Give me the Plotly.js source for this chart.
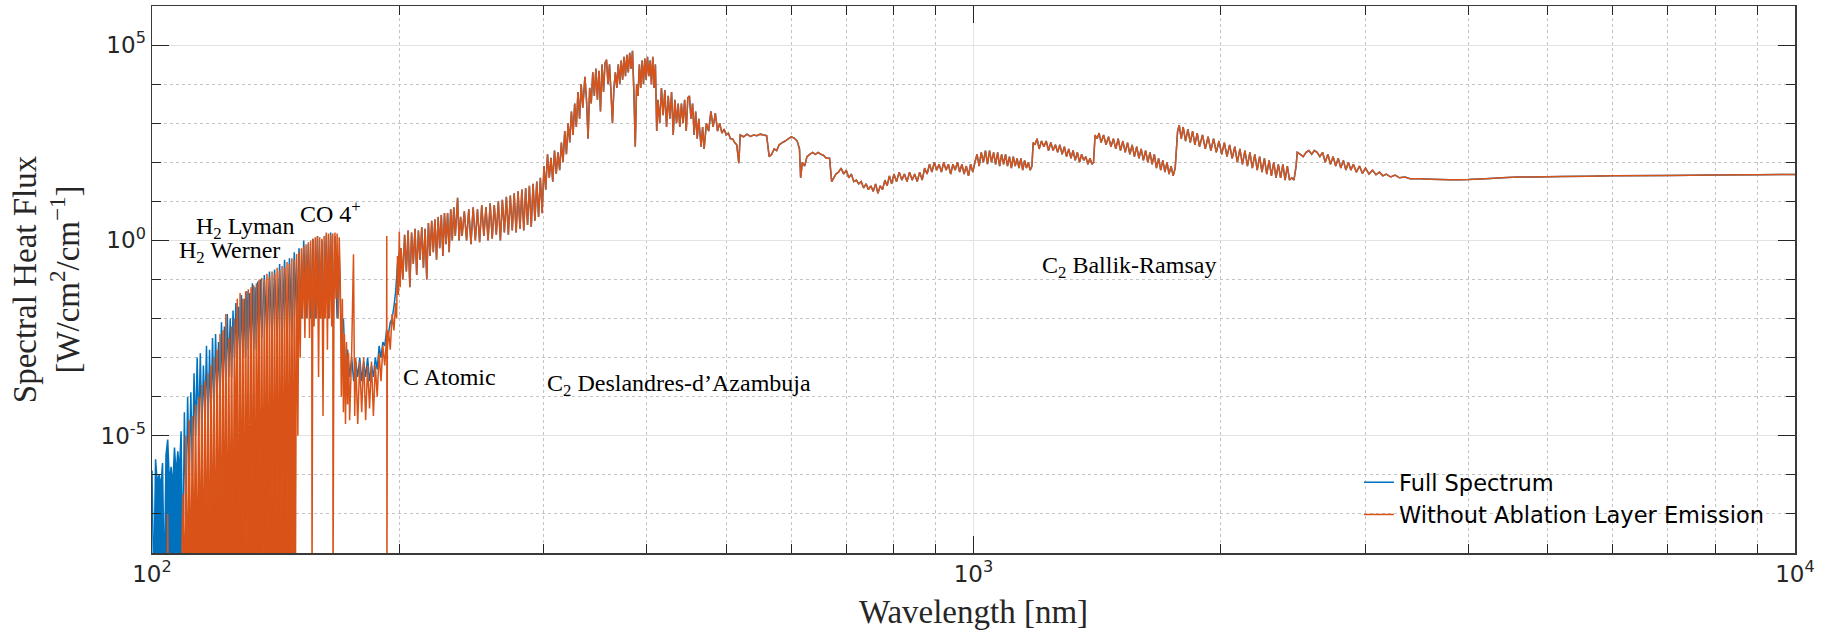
<!DOCTYPE html>
<html><head><meta charset="utf-8">
<script src="https://cdn.plot.ly/plotly-3.0.1.min.js"></script>
<style>html,body{margin:0;padding:0;background:#fff;} #chart{width:1836px;height:638px;}</style>
</head><body><div id="chart"></div>
<script>
// ---- Full Spectrum (blue), 100-200 nm where it differs from the other spectrum ----
const fullLowWavelength = [
100,100.5,101,101.5,102,102.5,103,103.5,104,104.5,105,105.5,106,106.5,107,107.5,108,108.5,109,109.5,
110,110.5,111,111.5,112,112.5,113,113.5,114,114.5,115,115.5,116,116.5,117,117.5,118,118.5,119,119.5,
120,120.5,121,121.5,122,122.5,123,123.5,124,124.5,125,125.5,126,126.5,127,127.5,128,128.5,129,129.5,
130,130.5,131,131.5,132,132.5,133,133.5,134,134.5,135,135.5,
136,137,138,139,140,141,142,143,144,145,146,147,148,149,
150,151,152,153,154,155,156,157,158,159,160,161,162,163,164,165,166,167,168,169,
170,171,172,173,174,175,176,177,178,179,180,181,182,183,184,185,186,187,188,189,
190,191,192,193,194,195,196,197,198,199,200
];
const fullLowFlux = [
1.3e-6,1e-9,2.5e-6,6.3e-7,1e-6,5e-7,2e-6,1e-9,3.2e-6,8e-6,6.3e-7,1.6e-6,5e-7,5e-6,1e-6,4e-6,1.3e-6,1.3e-5,3.2e-9,4e-5,
1e-7,1e-4,1e-6,1.3e-4,1e-6,4e-4,1e-5,1e-3,1e-5,1.3e-3,1e-5,6.3e-4,3.2e-5,2e-3,1e-5,1.6e-3,3.2e-5,3.2e-3,3.2e-5,4e-3,
1e-4,2.5e-3,1e-4,8e-3,1e-4,6.3e-3,3.2e-4,1.3e-2,3.2e-4,1e-2,3.2e-4,1.6e-2,1e-3,2.5e-2,1e-3,2e-2,1e-3,4e-2,1e-3,3.2e-2,
1e-3,5e-2,1.6e-3,4.5e-2,1.6e-3,8e-2,1.6e-3,6.3e-2,1.6e-3,8.9e-2,3.2e-3,0.1,
3.2e-3,0.13,3.2e-3,0.16,3.2e-3,0.18,3.2e-3,0.25,3.2e-3,0.32,3.2e-3,0.35,3.2e-3,0.5,
0.01,0.63,0.01,1,0.01,0.8,0.01,1.1,0.01,1.3,0.01,1,0.01,1.4,0.01,1.6,0.01,1.3,0.01,0.4,
3.2e-3,1e-2,4e-4,1.6e-3,3.2e-4,1e-3,2.5e-4,8e-4,3.2e-4,1e-3,2.5e-4,8e-4,3.2e-4,1e-3,2.5e-4,6.3e-4,3.2e-4,1e-3,5e-4,2e-3,
1e-3,2.5e-3,2e-3,5e-3,4e-3,8e-3,1e-2,2e-2,5e-2,0.25,0.5
];

// ---- Without Ablation Layer Emission (orange), 100-200 nm ----
const ablLowWavelength = [
100,104.3,104.5,104.7,108.5,109,109.5,
110,110.5,111,111.5,112,112.5,113,113.5,114,114.5,115,115.5,116,116.5,117,117.5,118,118.5,119,119.5,
120,120.5,121,121.5,122,122.5,123,123.5,124,124.5,125,125.5,126,126.5,127,127.5,128,128.5,129,129.5,
130,130.5,131,131.5,132,132.5,133,133.5,134,134.5,135,135.5,
136,136.5,137,137.5,138,138.5,139,139.5,140,140.5,141,141.5,142,142.5,143,143.5,144,144.5,145,145.5,146,146.5,147,147.5,148,148.5,149,149.5,
150,150.5,151,151.5,152,152.5,153,153.5,154,154.5,155,155.5,156,156.5,156.6,157,157.5,158,158.5,159,159.5,160,160.5,161,161.5,162,162.5,163,163.5,164,164.5,165,165.5,166,166.1,166.5,167,167.5,168,168.5,169,169.5,
170,170.5,171,171.5,172,172.5,173,173.5,174,175,175.9,176.5,177,178,179,180,181,182,183,184,185,186,187,188,189,
190,191,192,193,193.1,193.2,193.4,194,195,196,197,198,198.5,199,199.5,200,200.5
];
const ablLowFlux = [
3.2e-10,3.2e-10,1e-7,3.2e-10,3.2e-10,3.2e-7,1e-9,
1e-5,1e-9,2.5e-5,1e-9,3.2e-5,3.2e-9,6.3e-5,1e-9,1e-4,3.2e-9,2e-4,1e-9,2.5e-4,3.2e-9,4e-4,1e-9,6.3e-4,3.2e-9,1e-3,1e-9,
1.6e-3,3.2e-9,4e-3,1e-9,5e-3,3.2e-9,1.3e-2,1e-9,3.2e-3,3.2e-9,6.3e-3,1e-9,1e-2,1e-6,3.2e-2,1e-9,4.5e-2,3.2e-9,3.2e-2,1e-9,
5e-2,1e-8,5.6e-2,1e-9,6.3e-2,3.2e-9,7.1e-2,1e-9,8e-2,1e-7,0.1,1e-9,
0.11,1e-9,0.1,3.2e-9,0.14,1e-9,0.12,3.2e-9,0.16,1e-9,0.14,3.2e-9,0.2,1e-9,0.17,3.2e-9,0.22,1e-9,0.2,3.2e-9,0.28,1e-9,0.25,3.2e-9,0.35,1e-9,0.32,3.2e-9,
0.45,1e-5,0.5,1e-3,0.63,1e-2,0.7,3.2e-3,0.8,1e-2,0.9,3.2e-3,1,1e-2,1e-9,1.1,6.3e-3,1.2,1e-2,1.3,3.2e-4,1.2,1e-2,1.1,3.2e-5,1.3,1e-2,1.6,1.6e-3,1.5,1e-2,1.4,6.3e-3,1.5,1e-9,1e-2,1.6,3.2e-2,1.5,1e-2,1.2,0.1,
1e-4,3.2e-2,4e-5,4e-3,2e-5,2.5e-3,6.3e-5,1.3e-3,2.5e-5,1.3e-3,0.44,3.2e-5,1e-3,2e-5,8e-4,4e-5,1e-3,2.5e-5,6.3e-4,5e-5,8e-4,3.2e-5,6.3e-4,1e-4,1.3e-3,
2.5e-4,2e-3,6.3e-4,3.2e-3,1.3,1e-9,1.6e-3,5e-3,1.6e-3,1.3e-2,5e-3,2.5e-2,1e-2,0.4,4e-2,1.7,6.3e-2
];

// ---- Above ~200 nm both spectra coincide (the orange one is drawn on top) ----
const sharedWavelength = [
201,202,203,204,205,206,207,208,209,210,211,212,213,214,215,216,217,218,219,220,221,222,223,224,225,226,227,228,229,230,231,232,233,234,
235.5,236.5,237.5,238.5,240,241.5,243,244.5,246,247.5,249,250.5,252,253.5,255,256.5,258,259.5,261,262.5,264,265.5,267,268.5,270,271.5,273,274.5,276,277.5,279,280.5,282,283.5,285,286.5,288,289.5,291,292.5,294,295.5,297,298.5,
300,301.5,303,304.5,306,307.5,309,310.5,312,313.5,315,316.5,318,319.5,321,322.5,324,325.5,327,328.5,330,331.5,333,334.5,
336.5,338,339.5,341,342.5,344,345.5,347,348.5,350,351.5,353,354.5,356,357.5,359,360.5,362,363.5,365,366.5,368,369.5,371,372.5,374,375.5,377,378.5,380,381.5,383,384.5,386,387.5,389,390.5,392,393.5,395,396.5,398,399.5,
401,402.5,404,405.5,407,408.5,410,411.5,413,415,417,419,421,423,425,427,429,431,433,435,437,439,441,443,445,447,449,451,453,455,457,459,461,463,466,468,470,473,476,479,482,485,488,491,494,497,
500,503,506,509,512,515,518,520,525,530,535,540,545,550,555,560,564,568,572,576,580,585,590,595,
600,605,610,614,616,619,623,627,632,637,642,647,652,657,662,668,672,676,680,685,690,695,
700,705,710,715,720,725,730,735,740,745,750,755,760,765,770,775,780,785,790,795,
800,806,812,818,824,830,836,842,848,854,860,866,872,878,884,890,896,902,908,914,920,926,932,938,944,950,956,962,968,974,980,986,992,998,
1004,1010,1016,1022,1028,1034,1040,1046,1052,1058,1064,1070,1076,1082,1088,1094,1100,1106,1112,1118,1124,1130,1136,1142,1148,1154,1160,1166,1172,1178,
1182,1188,1195,1202,1210,1218,1226,1234,1242,1250,1258,1266,1274,1282,1290,1298,1306,1314,1322,1330,1338,1346,1354,1362,1370,1378,1386,1394,1400,
1406,1414,1422,1430,1440,1450,1460,1470,1480,1490,1500,1510,1520,1530,1540,1550,1560,1570,1580,1590,1600,1610,1620,1630,1640,1650,1660,1670,1680,1690,1700,1710,1720,1730,1740,1750,1760,
1772,1780,1790,1800,1812,1824,1836,1848,1860,1872,1884,
1900,1915,1930,1945,1960,1975,1990,2005,2020,2035,2050,2065,2080,2095,2110,2125,2140,2155,2170,2185,2200,2215,2230,2245,2260,2275,2290,2305,2320,2335,2350,2365,2380,2395,2410,2425,2440,2455,2470,
2478,2500,2520,2540,2560,2580,2600,2620,2640,2660,2680,2700,2720,2740,2760,2780,2800,2820,2840,2860,2880,2900,2925,2950,2975,3000,
3030,3060,3090,3120,3150,3180,3220,3260,3300,3350,3400,3500,3600,3700,3800,3900,4000,4200,4400,4600,4800,5200,5600,6000,7000,8000,9000,10000
];
const sharedFlux = [
0.63,0.1,1.4,0.16,1.8,6.3e-2,1.6,0.25,2,0.13,1.8,0.32,2.2,0.2,2,0.1,2.8,0.4,3.2,0.5,3.5,0.32,4,0.63,4.5,0.4,5,0.8,5,0.5,6.3,1,7.1,1.3,
12.3,1,4,1.3,5.6,1,6.3,0.8,7.1,1,6.3,0.9,8,1.3,7.1,1,8.9,1.1,8,1.4,10,1,11,1.6,13,1.4,14,1.8,16,1.6,18,2,20,1.8,22,2.5,25,2.2,28,3.2,32,4,40,5,
80,20,160,40,130,32,200,50,180,63,320,100,630,160,1000,320,2000,500,3200,800,6300,1300,1e4,2500,
1.55e4,4000,400,8000,3200,2e4,5000,2.5e4,4000,2.2e4,2000,3.2e4,6300,3.5e4,4.2e4,1e4,3.2e4,6300,1000,8000,2e4,8000,3.2e4,1e4,4e4,1.3e4,5e4,1.6e4,5.6e4,2e4,6.3e4,2.5e4,7.1e4,6300,250,1e4,5000,3.2e4,8000,4e4,1e4,4.5e4,1.3e4,
5e4,1.6e4,4e4,1e4,5e4,8000,3.2e4,630,4000,1000,8000,1600,7100,800,5000,1300,6300,500,4000,1000,3200,800,3200,1000,4000,630,4500,5000,1300,3200,500,2000,400,1300,250,800,220,1000,630,2000,800,1800,630,1000,560,710,
500,560,400,400,320,280,95,500,450,525,457,500,479,525,500,479,140,160,220,200,280,320,350,400,
450,417,350,220,40,100,80,140,160,180,160,180,160,150,126,126,32,40,50,56,71,50,
63,40,50,32,35,28,32,22,28,20,25,18,28,16,25,20,35,25,45,28,
50,32,56,35,50,32,56,35,50,32,56,35,71,50,89,56,100,63,89,56,100,63,89,50,89,63,100,56,89,50,80,45,89,56,
100,160,80,180,100,200,89,200,100,180,89,180,80,160,89,160,80,140,71,140,80,126,71,126,63,112,71,100,63,80,
320,280,400,220,350,250,350,200,320,200,280,180,280,160,250,140,220,126,200,112,180,100,160,112,140,89,126,89,100,
500,400,560,320,500,280,450,250,400,220,400,200,350,180,320,160,280,140,250,126,220,112,200,100,180,89,160,71,126,63,112,56,100,50,80,45,71,
630,890,400,800,350,710,320,630,280,560,250,
500,220,450,200,400,180,350,160,320,140,280,126,250,100,220,89,200,80,180,71,160,63,140,56,126,50,112,45,100,40,89,40,89,35,80,35,40,35,80,
180,160,140,180,200,160,200,180,140,180,100,160,89,140,80,126,71,112,63,100,63,89,56,80,52,71,
50,63,48,56,45,50,42,47,40,42,38,38,37,36,35.5,35.5,36,38,40,42,42,43,44,45,46,47,48,49
];

// ---- Axis ticks ----
const xMajorTicks = [100, 1000, 10000];
const xMajorLabels = ['10<sup>2</sup>', '10<sup>3</sup>', '10<sup>4</sup>'];
const xMinorTicks = [200,300,400,500,600,700,800,900,2000,3000,4000,5000,6000,7000,8000,9000];
const yMajorTicks = [1e-5, 1, 1e5];
const yMajorLabels = ['10<sup>-5</sup>', '10<sup>0</sup>', '10<sup>5</sup>'];
const yMinorTicks = [1e-8,1e-7,1e-6,1e-4,1e-3,1e-2,1e-1,10,100,1000,1e4,1e6];

// ---- Band labels ----
const bandLabels = ['CO 4<sup>+</sup>', 'H<sub>2</sub> Lyman', 'H<sub>2</sub> Werner', 'C Atomic',
  'C<sub>2</sub> Deslandres-d\u2019Azambuja', 'C<sub>2</sub> Ballik-Ramsay'];
const bandLabelX = [0.0886, 0.0253, 0.0155, 0.1513, 0.2390, 0.5403];
const bandLabelY = [0.6236, 0.5944, 0.5505, 0.3221, 0.3075, 0.5231];

const axisColor = '#262626';
const serif = 'Liberation Serif, Times New Roman, serif';
const sans = 'DejaVu Sans, sans-serif';
const blue = '#0072BD', orange = '#D95319';

// the densely packed lines that reach the bottom of the axes are drawn as a filled area under the same points
function pick(wl, fl, lo, hi) {
  const x = [], y = [];
  wl.forEach((w, i) => { if (w >= lo && w <= hi) { x.push(w); y.push(fl[i]); } });
  return {x, y};
}
const blueDense = pick(fullLowWavelength, fullLowFlux, 100.5, 109);
const orangeDense = pick(ablLowWavelength, ablLowFlux, 100, 149.5);

const traces = [
  {x: blueDense.x, y: blueDense.y, type: 'scatter', mode: 'lines', fill: 'toself',
   fillcolor: blue, line: {color: blue, width: 0}, showlegend: false, hoverinfo: 'skip'},
  {x: fullLowWavelength.concat(sharedWavelength), y: fullLowFlux.concat(sharedFlux),
   type: 'scatter', mode: 'lines', name: 'Full Spectrum',
   line: {color: blue, width: 1.5, simplify: false}},
  {x: orangeDense.x, y: orangeDense.y, type: 'scatter', mode: 'lines', fill: 'toself',
   fillcolor: orange, line: {color: orange, width: 0}, showlegend: false, hoverinfo: 'skip'},
  {x: ablLowWavelength.concat(sharedWavelength), y: ablLowFlux.concat(sharedFlux),
   type: 'scatter', mode: 'lines', name: 'Without Ablation Layer Emission',
   line: {color: orange, width: 1.5, simplify: false}}
];

const commonAxis = {
  type: 'log', ticks: 'inside', ticklen: 17, tickwidth: 1, tickcolor: axisColor,
  showline: true, linecolor: '#3a3a3a', linewidth: 1.5, mirror: 'allticks',
  showgrid: true, gridcolor: '#e3e3e3', gridwidth: 1, zeroline: false,
  tickmode: 'array', tickfont: {family: sans, size: 23, color: axisColor}
};

const layout = {
  width: 1836, height: 638,
  margin: {l: 152, r: 41, t: 6, b: 85, pad: 0},
  paper_bgcolor: '#ffffff', plot_bgcolor: '#ffffff',
  showlegend: true,
  legend: {x: 0.7346, y: 0.168, xanchor: 'left', yanchor: 'top', bgcolor: 'rgba(0,0,0,0)',
           borderwidth: 0, tracegroupgap: 0, font: {family: sans, size: 22.5, color: '#000000'}},
  xaxis: Object.assign({}, commonAxis, {
    range: [2, 4], tickvals: xMajorTicks, ticktext: xMajorLabels,
    minor: {tickvals: xMinorTicks, ticks: 'inside', ticklen: 9, tickcolor: axisColor, tickwidth: 1,
            showgrid: true, gridcolor: '#c4c4c4', griddash: 'dot', gridwidth: 1},
    title: {text: 'Wavelength [nm]', font: {family: serif, size: 33, color: '#262626'}, standoff: 14}
  }),
  yaxis: Object.assign({}, commonAxis, {
    range: [-8, 6], tickvals: yMajorTicks, ticktext: yMajorLabels,
    minor: {tickvals: yMinorTicks, ticks: 'inside', ticklen: 9, tickcolor: axisColor, tickwidth: 1,
            showgrid: true, gridcolor: '#c4c4c4', griddash: 'dot', gridwidth: 1},
    title: {text: 'Spectral Heat Flux<br>[W/cm<sup>2</sup>/cm<sup>\u22121</sup>]',
            font: {family: serif, size: 33, color: '#262626'}, standoff: 11}
  }),
  annotations: bandLabels.map((t, i) => ({
    text: t, x: bandLabelX[i], y: bandLabelY[i], xref: 'paper', yref: 'paper',
    xanchor: 'left', yanchor: 'middle', showarrow: false,
    font: {family: serif, size: 24, color: '#000000'}
  }))
};

Plotly.newPlot('chart', traces, layout, {displayModeBar: false, staticPlot: true});
</script>
</body></html>
